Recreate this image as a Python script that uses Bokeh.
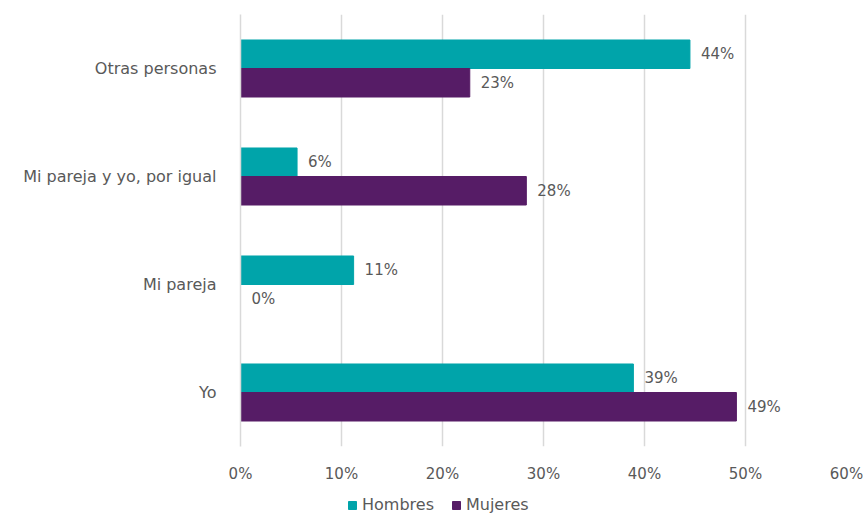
from bokeh.plotting import figure
from bokeh.layouts import column
from bokeh.models import ColumnDataSource, FactorRange, FixedTicker, Legend, LegendItem, LabelSet
from bokeh.transform import dodge
from bokeh.core.properties import value
from bokeh.embed import file_html
from bokeh.resources import INLINE

categories = ["Yo", "Mi pareja", "Mi pareja y yo, por igual", "Otras personas"]
hombres = [38.9, 11.2, 5.6, 44.5]
mujeres = [49.1, 0.0, 28.3, 22.7]
tick_values = [0, 10, 20, 30, 40, 50, 60]
tick_labels = ["0%", "10%", "20%", "30%", "40%", "50%", "60%"]
series_names = ["Hombres", "Mujeres"]
colors = ["#00A4AA", "#561C66"]

FONT = "DejaVu Sans"
TXT = "#595959"

src = ColumnDataSource(dict(
    cat=categories,
    h=hombres,
    m=mujeres,
    hl=[f"{round(v):.0f}%" for v in hombres],
    ml=[f"{round(v):.0f}%" for v in mujeres],
))

p = figure(width=865, height=485, y_range=FactorRange(*categories), x_range=(0, 60),
           output_backend="svg", toolbar_location=None,
           min_border_left=240, min_border_right=19, min_border_top=14, min_border_bottom=38)
p.outline_line_color = None
p.background_fill_color = "white"

off = 0.132
bh = 0.264
rh = p.hbar(y=dodge("cat", off, range=p.y_range), left=0, right="h", height=bh, source=src,
            fill_color=colors[0], line_color=colors[0])
rm = p.hbar(y=dodge("cat", -off, range=p.y_range), left=0, right="m", height=bh, source=src,
            fill_color=colors[1], line_color=colors[1])

for col, lab, o in (("h", "hl", off), ("m", "ml", -off)):
    ls = LabelSet(x=col, y=dodge("cat", o, range=p.y_range), text=lab, source=src,
                  x_offset=11, text_baseline="middle", text_align="left",
                  text_font=value(FONT), text_font_size="15px", text_color=TXT)
    p.add_layout(ls)

p.xaxis.ticker = FixedTicker(ticks=tick_values)
p.xaxis.major_label_overrides = {v: l for v, l in zip(tick_values, tick_labels)}
p.xaxis.axis_line_color = None
p.xaxis.major_tick_line_color = None
p.xaxis.minor_tick_line_color = None
p.xaxis.major_label_standoff = 12
p.xaxis.major_label_text_font = FONT
p.xaxis.major_label_text_font_size = "15px"
p.xaxis.major_label_text_color = TXT

p.yaxis.axis_line_color = "#D9D9D9"
p.yaxis.axis_line_width = 1.5
p.yaxis.major_tick_line_color = None
p.yaxis.minor_tick_line_color = None
p.yaxis.major_label_standoff = 18
p.yaxis.major_label_text_font = FONT
p.yaxis.major_label_text_font_size = "16px"
p.yaxis.major_label_text_color = TXT

p.ygrid.grid_line_color = None
p.xgrid.grid_line_color = "#D9D9D9"
p.xgrid.grid_line_width = 1.5

# legend strip below the chart (frame is aligned with the main frame by the column layout)
lf = figure(width=865, height=29, x_range=(0, 1), y_range=(0, 1),
            output_backend="svg", toolbar_location=None,
            min_border_left=0, min_border_right=0, min_border_top=0, min_border_bottom=0)
lf.axis.visible = False
lf.grid.visible = False
lf.outline_line_color = None
proxy = ColumnDataSource(dict(l=[-10.0], r=[-9.0], b=[-10.0], t=[-9.0]))
lh = lf.quad(left="l", right="r", bottom="b", top="t", source=proxy,
             fill_color=colors[0], line_color=colors[0])
lm = lf.quad(left="l", right="r", bottom="b", top="t", source=proxy,
             fill_color=colors[1], line_color=colors[1])
legend = Legend(items=[LegendItem(label=series_names[0], renderers=[lh]),
                       LegendItem(label=series_names[1], renderers=[lm])],
                orientation="horizontal", location=(107, 0),
                label_text_font=FONT, label_text_font_size="16px", label_text_color=TXT,
                glyph_width=10, glyph_height=10, spacing=17, label_standoff=5,
                background_fill_alpha=0, border_line_color=None, padding=0, margin=0)
lf.add_layout(legend, "center")

layout = column(p, lf, spacing=0)
open("out.html", "w").write(file_html(layout, INLINE))
